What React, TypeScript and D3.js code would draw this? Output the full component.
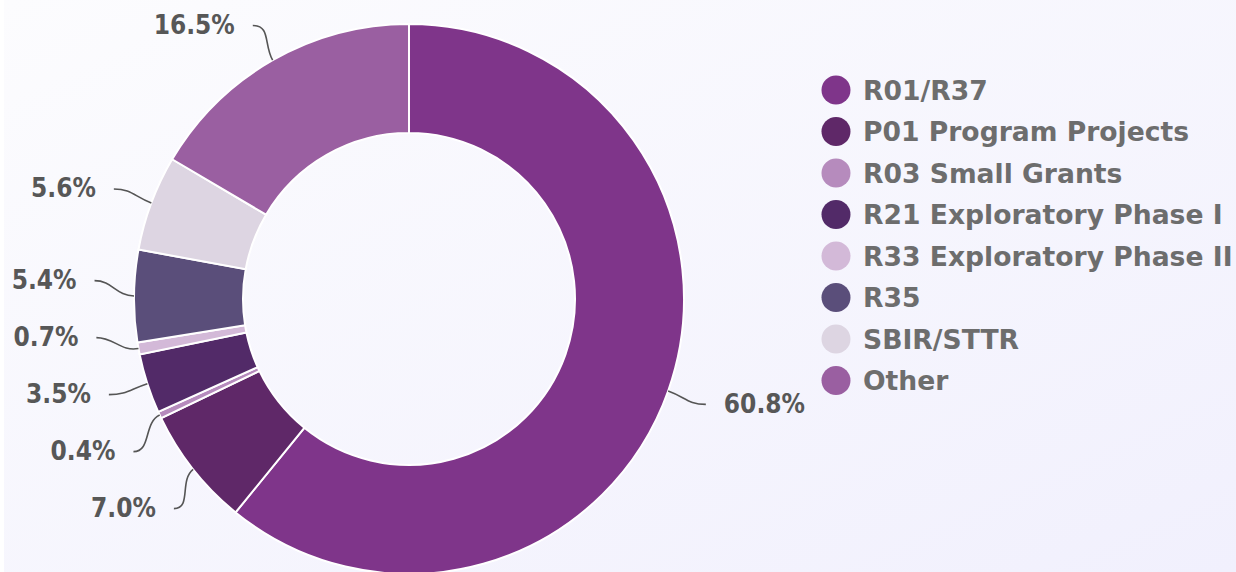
import React from "react";
import * as d3 from "d3";

const categories = [
  "R01/R37",
  "P01 Program Projects",
  "R03 Small Grants",
  "R21 Exploratory Phase I",
  "R33 Exploratory Phase II",
  "R35",
  "SBIR/STTR",
  "Other",
];
const shares = [60.8, 7.0, 0.4, 3.5, 0.7, 5.4, 5.6, 16.5];
const colors = [
  "#7f358a",
  "#5f2868",
  "#b68bbd",
  "#522a68",
  "#d3b9d8",
  "#5a4e7a",
  "#ddd5e2",
  "#9a5fa1",
];

const W = 1236;
const H = 572;
const CX = 409;
const CY = 299;
const R_OUT = 275;
const R_IN = 166;
const R_LABEL = 315;
const MIN_GAP = 57;

type Lab = { i: number; a: number; y0: number; y: number; side: number };

function relax(items: Lab[]) {
  const sorted = [...items].sort((p, q) => p.y0 - q.y0);
  type Cl = { items: Lab[]; top: number };
  const clusters: Cl[] = [];
  for (const it of sorted) {
    let cl: Cl = { items: [it], top: it.y0 };
    while (clusters.length) {
      const prev = clusters[clusters.length - 1];
      const prevBottom = prev.top + (prev.items.length - 1) * MIN_GAP;
      if (prevBottom + MIN_GAP > cl.top) {
        clusters.pop();
        const merged = [...prev.items, ...cl.items];
        const mean = d3.mean(merged, (m) => m.y0) as number;
        cl = { items: merged, top: mean - ((merged.length - 1) * MIN_GAP) / 2 };
      } else break;
    }
    clusters.push(cl);
  }
  clusters.forEach((c) => c.items.forEach((it, k) => (it.y = c.top + k * MIN_GAP)));
}

export default function App() {
  const pie = d3
    .pie<number>()
    .sort(null)
    .value((d) => d)
    .startAngle(0)
    .endAngle(2 * Math.PI);
  const arcs = pie(shares);
  const arcGen = d3
    .arc<d3.PieArcDatum<number>>()
    .innerRadius(R_IN)
    .outerRadius(R_OUT);

  const labs: Lab[] = arcs.map((a, i) => {
    const mid = (a.startAngle + a.endAngle) / 2;
    const side = Math.sin(mid) < 0 ? -1 : 1;
    const y0 = CY - R_LABEL * Math.cos(mid);
    return { i, a: mid, y0, y: y0, side };
  });
  relax(labs.filter((l) => l.side < 0));
  relax(labs.filter((l) => l.side > 0));

  const legendY = d3.scalePoint<string>().domain(categories).range([90, 380.5]);

  return (
    <svg
      width={W}
      height={H}
      style={{ position: "absolute", left: 0, top: 0 }}
      fontFamily="'DejaVu Sans', sans-serif"
    >
      <defs>
        <linearGradient id="bg" x1="0" y1="0" x2="1" y2="1">
          <stop offset="0%" stopColor="#fcfcfe" />
          <stop offset="100%" stopColor="#f1f0fd" />
        </linearGradient>
      </defs>
      <rect x={0} y={0} width={W} height={H} fill="#ffffff" />
      <rect x={4} y={0} width={W - 4} height={H} fill="url(#bg)" />
      <g transform={`translate(${CX},${CY})`}>
        {arcs.map((a, i) => (
          <path
            key={i}
            d={arcGen(a) || ""}
            fill={colors[i]}
            stroke="#ffffff"
            strokeWidth={2}
          />
        ))}
      </g>
      {labs.map((l) => {
        const p0x = CX + R_OUT * Math.sin(l.a);
        const p0y = CY - R_OUT * Math.cos(l.a);
        const dy = l.y - CY;
        const dx = Math.sqrt(Math.max(R_LABEL * R_LABEL - dy * dy, 0));
        const p2x = CX + l.side * dx;
        const p2y = l.y;
        const c1x = p0x + 18 * Math.sin(l.a);
        const c1y = p0y - 18 * Math.cos(l.a);
        const c2x = p2x - l.side * 18;
        const c2y = p2y;
        const path = d3.path();
        path.moveTo(p0x, p0y);
        path.bezierCurveTo(c1x, c1y, c2x, c2y, p2x, p2y);
        const tx = p2x + l.side * 18;
        return (
          <g key={l.i}>
            <path d={path.toString()} fill="none" stroke="#555555" strokeWidth={1.6} />
            <text
              transform={`translate(${tx},${p2y - 1}) scale(0.9,1)`}
              dy="0.36em"
              textAnchor={l.side < 0 ? "end" : "start"}
              fontSize={26}
              fontWeight="bold"
              fill="#575757"
            >
              {shares[l.i].toFixed(1)}%
            </text>
          </g>
        );
      })}
      <g>
        {categories.map((c, i) => (
          <g key={c} transform={`translate(0,${legendY(c)})`}>
            <circle cx={836} cy={0} r={14.5} fill={colors[i]} />
            <text
              x={863}
              y={0}
              dy="0.36em"
              fontSize={26.6}
              fontWeight="bold"
              fill="#6d6d6d"
            >
              {c}
            </text>
          </g>
        ))}
      </g>
    </svg>
  );
}
